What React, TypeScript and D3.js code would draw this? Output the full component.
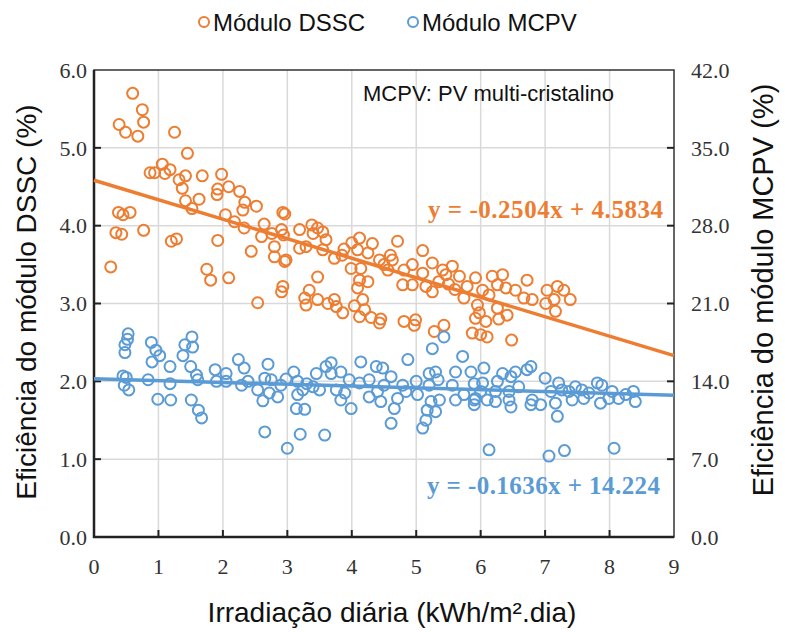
import React from "react";
import * as d3 from "d3";

// DSSC module efficiency (%), left axis: [daily irradiation, efficiency]
const dssc: [number, number][] = [
  [0.60,5.70],[0.75,5.49],[0.77,5.33],[0.39,5.30],[0.49,5.20],[0.68,5.15],[1.25,5.20],[1.45,4.93],
  [0.87,4.68],[0.94,4.68],[1.06,4.79],[1.18,4.72],[1.10,4.67],[1.32,4.59],[1.42,4.64],[1.37,4.48],
  [1.68,4.64],[1.42,4.32],[1.52,4.22],[1.63,4.34],[1.98,4.66],[1.92,4.47],[1.91,4.40],[2.09,4.50],
  [2.26,4.44],[2.34,4.30],[2.31,4.20],[2.52,4.25],[2.04,4.14],[2.18,4.05],[2.33,3.97],[2.64,4.02],
  [2.60,3.86],[2.76,3.90],[2.93,4.17],[2.96,4.15],[2.91,3.95],[2.80,3.73],[2.80,3.60],[2.96,3.54],[2.44,3.67],
  [0.38,4.17],[0.45,4.14],[0.56,4.17],[0.34,3.91],[0.43,3.89],[0.77,3.94],[1.20,3.80],[1.28,3.83],
  [1.92,3.81],[0.26,3.47],[1.75,3.44],[1.81,3.30],[2.09,3.33],[2.54,3.01],[2.93,3.22],[2.91,3.15],
  [2.94,3.88],[2.98,3.56],[3.19,3.95],[3.38,4.01],[3.40,3.90],[3.55,3.92],[3.60,3.82],[3.47,3.97],
  [3.19,3.71],[3.29,3.73],[3.55,3.69],[3.73,3.58],[3.88,3.70],[3.85,3.62],[4.12,3.84],[4.32,3.77],
  [4.00,3.78],[4.09,3.69],[4.25,3.65],[3.99,3.45],[4.14,3.45],[4.71,3.80],[4.43,3.56],[4.63,3.56],
  [4.60,3.62],[4.50,3.50],[4.56,3.43],[4.81,3.43],[5.10,3.68],[4.94,3.50],[5.25,3.52],[5.10,3.39],
  [5.41,3.43],[4.79,3.24],[4.94,3.24],[5.15,3.22],[5.25,3.15],[5.35,3.28],[5.50,3.25],[5.60,3.18],
  [3.47,3.34],[3.34,3.17],[3.27,3.07],[3.29,2.98],[3.47,3.05],[3.63,3.00],[3.73,3.05],[3.76,2.96],
  [3.86,2.88],[4.09,3.20],[4.12,3.30],[4.25,3.28],[4.04,2.97],[4.17,3.05],[4.20,2.92],[4.12,2.83],
  [4.30,2.82],[4.45,2.80],[4.43,2.75],[4.81,2.77],[4.97,2.72],[4.99,2.79],[5.28,2.64],[5.43,2.72],
  [5.56,3.48],[5.46,3.37],[5.67,3.35],[5.79,3.22],[5.92,3.33],[6.03,3.17],[6.18,3.35],[6.34,3.37],
  [6.26,3.24],[6.39,3.20],[6.13,3.11],[6.54,3.17],[6.72,3.30],[6.67,3.07],[6.80,3.05],[7.03,3.17],
  [7.19,3.22],[7.29,3.17],[7.01,3.00],[7.14,3.05],[7.39,3.05],[7.16,2.90],[5.74,3.07],[5.95,2.98],
  [5.98,2.88],[6.26,2.94],[6.41,2.85],[5.92,2.81],[6.08,2.77],[6.28,2.80],[5.87,2.62],[6.00,2.60],
  [6.10,2.57],[6.48,2.53],
];

// MCPV module efficiency (%), right axis: [daily irradiation, efficiency]
const mcpv: [number, number][] = [
  [0.53,18.27],[0.52,17.78],[0.48,17.29],[0.48,16.59],[0.89,17.50],[0.96,16.80],[1.02,16.31],[0.90,15.75],
  [1.18,15.33],[1.41,17.29],[1.52,17.99],[1.53,17.08],[1.38,16.31],[1.50,15.33],[1.59,14.56],[0.45,14.49],
  [0.50,14.35],[0.47,13.65],[0.54,13.23],[0.84,14.14],[1.18,13.79],[1.61,14.14],[0.99,12.39],[1.19,12.32],
  [1.51,12.32],[1.62,11.41],[1.67,10.71],[1.88,15.05],[2.05,14.70],[1.90,14.00],[2.05,14.00],[2.24,15.96],
  [2.33,15.19],[2.29,13.65],[2.39,14.00],[2.70,15.54],[2.65,14.28],[2.54,13.23],[2.75,14.14],[2.72,12.95],
  [2.62,12.25],[2.65,9.45],[2.98,14.21],[3.10,14.84],[3.16,12.81],[3.14,11.55],[3.00,7.98],[2.90,13.65],
  [2.85,12.60],[3.16,14.00],[3.24,13.23],[3.30,13.79],[3.40,13.51],[3.27,11.48],[3.20,9.24],[3.58,9.17],
  [3.45,14.70],[3.60,15.33],[3.68,15.68],[3.68,14.70],[3.83,14.84],[3.50,13.23],[3.76,13.23],[3.89,12.95],
  [3.83,12.32],[3.99,11.55],[3.96,14.14],[4.14,15.75],[4.27,14.14],[4.12,13.86],[4.27,12.60],[4.38,15.33],
  [4.48,15.19],[4.61,14.42],[4.50,13.65],[4.40,13.09],[4.71,12.46],[4.45,12.18],[4.66,11.55],[4.61,10.22],
  [4.87,15.96],[4.79,13.65],[5.00,14.00],[4.84,13.09],[5.02,12.81],[5.20,14.70],[5.30,14.84],[5.20,13.65],
  [5.23,12.18],[5.36,12.32],[5.17,11.41],[5.30,11.27],[5.15,10.50],[5.10,9.80],[5.25,16.94],[5.43,17.99],
  [5.34,14.14],[5.61,14.84],[5.72,16.24],[5.56,13.65],[5.74,12.81],[5.85,14.84],[5.90,13.79],[5.61,12.32],
  [5.90,12.32],[6.05,15.19],[5.92,12.46],[5.90,11.90],[6.34,14.70],[6.47,14.42],[6.54,14.84],[6.72,15.05],
  [6.78,15.33],[6.26,14.00],[6.23,13.09],[6.44,13.09],[6.59,13.51],[6.23,12.18],[6.44,12.32],[6.47,11.69],
  [6.78,11.90],[6.93,11.90],[6.80,12.32],[7.00,14.28],[7.09,13.09],[7.16,12.04],[7.19,10.85],[7.21,13.86],
  [7.26,13.23],[7.37,13.09],[7.47,13.51],[7.57,13.23],[7.68,12.95],[7.81,13.86],[7.88,13.65],[7.42,12.32],
  [7.60,12.46],[7.86,12.04],[7.99,12.46],[8.14,12.46],[8.37,13.09],[8.40,12.18],[8.04,13.09],[8.25,12.81],
  [6.13,7.84],[7.06,7.28],[7.30,7.77],[8.07,7.98],[6.03,13.86],[6.00,13.09],[6.10,12.32],
];

// Linear trend lines: [slope, intercept]
const dsscTrend = { slope: -0.2504, intercept: 4.5834, label: "y = -0.2504x + 4.5834" };
const mcpvTrend = { slope: -0.1636, intercept: 14.224, label: "y = -0.1636x + 14.224" };

const xTicks = [0, 1, 2, 3, 4, 5, 6, 7, 8, 9];
const yLeftTicks = [0, 1, 2, 3, 4, 5, 6];
const yRightTicks = [0, 7, 14, 21, 28, 35, 42];

const ORANGE = "#ED7D31";
const BLUE = "#5B9BD5";
const SANS = "'Liberation Sans', Arial, sans-serif";
const SERIF = "'Liberation Serif', 'Times New Roman', serif";

export default function App() {
  const W = 785, H = 632;
  const left = 94, right = 674, top = 70, bottom = 537;
  const x = d3.scaleLinear().domain([0, 9]).range([left, right]);
  const yL = d3.scaleLinear().domain([0, 6]).range([bottom, top]);
  const yR = d3.scaleLinear().domain([0, 42]).range([bottom, top]);
  const fmt = d3.format(".1f");
  const line = (s: { slope: number; intercept: number }, y: d3.ScaleLinear<number, number>) =>
    d3.line<number>().x((d) => x(d)).y((d) => y(s.slope * d + s.intercept))([0, 9]) || "";

  return (
    <svg width={W} height={H} style={{ position: "absolute", left: 0, top: 0, background: "#fff" }}>
      {/* grid */}
      {xTicks.slice(1, -1).map((t) => (
        <line key={"gx" + t} x1={x(t)} x2={x(t)} y1={top} y2={bottom} stroke="#d9d9d9" strokeWidth={1.5} />
      ))}
      {yLeftTicks.slice(1, -1).map((t) => (
        <line key={"gy" + t} x1={left} x2={right} y1={yL(t)} y2={yL(t)} stroke="#d9d9d9" strokeWidth={1.5} />
      ))}
      {/* frame */}
      <rect x={left} y={top} width={right - left} height={bottom - top} fill="none" stroke="#333" strokeWidth={1.5} />
      <line x1={left} x2={left} y1={top} y2={bottom + 1} stroke="#222" strokeWidth={2.5} />
      <line x1={left - 1} x2={right} y1={bottom} y2={bottom} stroke="#222" strokeWidth={2.5} />
      {/* ticks */}
      {xTicks.slice(1, -1).map((t) => (
        <line key={"tx" + t} x1={x(t)} x2={x(t)} y1={bottom} y2={bottom - 7} stroke="#222" strokeWidth={2} />
      ))}
      {yLeftTicks.slice(1, -1).map((t) => (
        <line key={"tl" + t} x1={left} x2={left + 7} y1={yL(t)} y2={yL(t)} stroke="#222" strokeWidth={2} />
      ))}
      {yRightTicks.slice(1, -1).map((t) => (
        <line key={"tr" + t} x1={right} x2={right - 7} y1={yR(t)} y2={yR(t)} stroke="#222" strokeWidth={2} />
      ))}
      {/* tick labels */}
      {xTicks.map((t) => (
        <text key={"lx" + t} x={x(t)} y={574} textAnchor="middle" fontFamily={SERIF} fontSize={22} fill="#333">{t}</text>
      ))}
      {yLeftTicks.map((t) => (
        <text key={"ll" + t} x={87} y={yL(t)} dy="0.35em" textAnchor="end" fontFamily={SERIF} fontSize={22} fill="#333">{fmt(t)}</text>
      ))}
      {yRightTicks.map((t) => (
        <text key={"lr" + t} x={691} y={yR(t)} dy="0.35em" textAnchor="start" fontFamily={SERIF} fontSize={22} fill="#333">{fmt(t)}</text>
      ))}
      {/* points */}
      {dssc.map((d, i) => (
        <circle key={"o" + i} cx={x(d[0])} cy={yL(d[1])} r={5.5} fill="none" stroke={ORANGE} strokeWidth={2} />
      ))}
      {mcpv.map((d, i) => (
        <circle key={"b" + i} cx={x(d[0])} cy={yR(d[1])} r={5.5} fill="none" stroke={BLUE} strokeWidth={2} />
      ))}
      {/* trend lines */}
      <path d={line(dsscTrend, yL)} stroke={ORANGE} strokeWidth={3.5} fill="none" />
      <path d={line(mcpvTrend, yR)} stroke={BLUE} strokeWidth={3.5} fill="none" />
      {/* equations */}
      <text x={428} y={218} fontFamily={SERIF} fontWeight="bold" fontSize={25} fill={ORANGE} textLength={235} lengthAdjust="spacing">{dsscTrend.label}</text>
      <text x={427} y={494} fontFamily={SERIF} fontWeight="bold" fontSize={25} fill={BLUE} textLength={233} lengthAdjust="spacing">{mcpvTrend.label}</text>
      {/* annotation */}
      <text x={363} y={101} fontFamily={SANS} fontSize={22} fill="#111">MCPV: PV multi-cristalino</text>
      {/* legend */}
      <circle cx={204} cy={22} r={5} fill="none" stroke={ORANGE} strokeWidth={2} />
      <text x={213} y={31} fontFamily={SANS} fontSize={24} fill="#111">Módulo DSSC</text>
      <circle cx={413} cy={22} r={5} fill="none" stroke={BLUE} strokeWidth={2} />
      <text x={422} y={31} fontFamily={SANS} fontSize={24} fill="#111">Módulo MCPV</text>
      {/* axis titles */}
      <text x={392} y={622} textAnchor="middle" fontFamily={SANS} fontSize={28} fill="#111">Irradiação diária (kWh/m².dia)</text>
      <text transform={`translate(36,302) rotate(-90)`} textAnchor="middle" fontFamily={SANS} fontSize={28} fill="#111">Eficiência do módulo DSSC (%)</text>
      <text transform={`translate(773,290) rotate(-90)`} textAnchor="middle" fontFamily={SANS} fontSize={29} fill="#111">Eficiência do módulo MCPV (%)</text>
    </svg>
  );
}
